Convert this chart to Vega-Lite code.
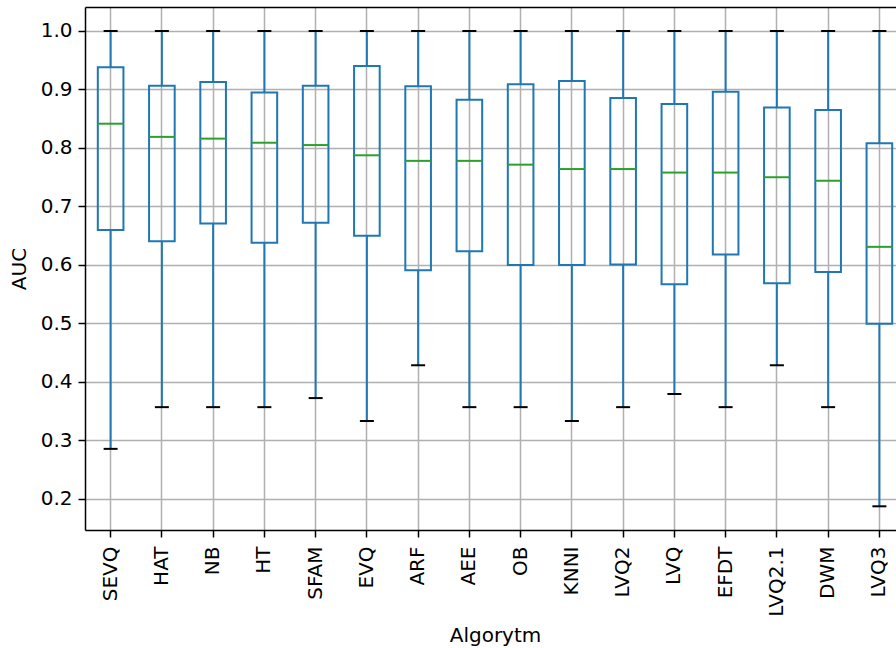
{
  "$schema": "https://vega.github.io/schema/vega-lite/v6.json",
  "width": 811,
  "height": 523,
  "autosize": {"type": "none"},
  "padding": {"left": 85, "top": 7, "right": 0, "bottom": 118},
  "background": "white",
  "config": {
    "view": {"stroke": null},
    "font": "DejaVu Sans",
    "axis": {
      "labelFont": "DejaVu Sans",
      "titleFont": "DejaVu Sans",
      "labelFontSize": 20,
      "titleFontSize": 20,
      "titleFontWeight": "normal",
      "labelColor": "black",
      "titleColor": "black",
      "domainColor": "black",
      "domainWidth": 1.5,
      "tickColor": "black",
      "tickWidth": 1.5,
      "tickSize": 7,
      "gridColor": "#b0b0b0",
      "gridWidth": 1.5,
      "gridOpacity": 1
    }
  },
  "data": {
    "values": [
      {"algo": "SEVQ", "lo": 0.2857, "q1": 0.660, "med": 0.8415, "q3": 0.938, "hi": 1.0},
      {"algo": "HAT", "lo": 0.357, "q1": 0.6405, "med": 0.819, "q3": 0.9066, "hi": 1.0},
      {"algo": "NB", "lo": 0.357, "q1": 0.671, "med": 0.816, "q3": 0.913, "hi": 1.0},
      {"algo": "HT", "lo": 0.357, "q1": 0.638, "med": 0.809, "q3": 0.895, "hi": 1.0},
      {"algo": "SFAM", "lo": 0.3725, "q1": 0.672, "med": 0.805, "q3": 0.9066, "hi": 1.0},
      {"algo": "EVQ", "lo": 0.3333, "q1": 0.650, "med": 0.7875, "q3": 0.940, "hi": 1.0},
      {"algo": "ARF", "lo": 0.4286, "q1": 0.591, "med": 0.778, "q3": 0.9055, "hi": 1.0},
      {"algo": "AEE", "lo": 0.357, "q1": 0.6235, "med": 0.778, "q3": 0.8826, "hi": 1.0},
      {"algo": "OB", "lo": 0.357, "q1": 0.600, "med": 0.7715, "q3": 0.909, "hi": 1.0},
      {"algo": "KNNI", "lo": 0.3333, "q1": 0.600, "med": 0.764, "q3": 0.9145, "hi": 1.0},
      {"algo": "LVQ2", "lo": 0.357, "q1": 0.601, "med": 0.764, "q3": 0.8855, "hi": 1.0},
      {"algo": "LVQ", "lo": 0.3795, "q1": 0.567, "med": 0.758, "q3": 0.875, "hi": 1.0},
      {"algo": "EFDT", "lo": 0.357, "q1": 0.618, "med": 0.758, "q3": 0.896, "hi": 1.0},
      {"algo": "LVQ2.1", "lo": 0.4286, "q1": 0.5687, "med": 0.750, "q3": 0.869, "hi": 1.0},
      {"algo": "DWM", "lo": 0.357, "q1": 0.588, "med": 0.744, "q3": 0.865, "hi": 1.0},
      {"algo": "LVQ3", "lo": 0.1875, "q1": 0.4997, "med": 0.631, "q3": 0.808, "hi": 1.0}
    ]
  },
  "layer": [
    {
      "mark": {"type": "rule", "color": "#1f77b4", "strokeWidth": 2},
      "encoding": {
        "x": {
          "field": "algo",
          "type": "nominal",
          "sort": null,
          "scale": {"type": "band", "range": [0, 820], "paddingInner": 0, "paddingOuter": 0},
          "axis": {
            "orient": "bottom",
            "title": "Algorytm",
            "labelAngle": 270,
            "labelAlign": "right",
            "labelBaseline": "middle",
            "labelPadding": 9,
            "bandPosition": 0.5,
            "grid": true,
            "titlePadding": 9
          }
        },
        "y": {
          "field": "lo",
          "type": "quantitative",
          "scale": {"domain": [0.147, 1.041], "nice": false, "zero": false},
          "axis": {
            "title": "AUC",
            "values": [0.2, 0.3, 0.4, 0.5, 0.6, 0.7, 0.8, 0.9, 1.0],
            "format": ".1f",
            "labelPadding": 6,
            "titlePadding": 11,
            "grid": true
          }
        },
        "y2": {"field": "q1"}
      }
    },
    {
      "mark": {"type": "rule", "color": "#1f77b4", "strokeWidth": 2},
      "encoding": {
        "x": {"field": "algo", "type": "nominal", "sort": null, "axis": null},
        "y": {"field": "q3", "type": "quantitative"},
        "y2": {"field": "hi"}
      }
    },
    {
      "mark": {"type": "bar", "width": {"band": 0.5}, "fill": "white", "fillOpacity": 0, "stroke": "#1f77b4", "strokeWidth": 2},
      "encoding": {
        "x": {"field": "algo", "type": "nominal", "sort": null, "axis": null},
        "y": {"field": "q1", "type": "quantitative"},
        "y2": {"field": "q3"}
      }
    },
    {
      "mark": {"type": "tick", "color": "black", "size": 14, "thickness": 2, "opacity": 1},
      "encoding": {
        "x": {"field": "algo", "type": "nominal", "sort": null, "axis": null},
        "y": {"field": "lo", "type": "quantitative"}
      }
    },
    {
      "mark": {"type": "tick", "color": "black", "size": 14, "thickness": 2, "opacity": 1},
      "encoding": {
        "x": {"field": "algo", "type": "nominal", "sort": null, "axis": null},
        "y": {"field": "hi", "type": "quantitative"}
      }
    },
    {
      "mark": {"type": "tick", "color": "#2ca02c", "size": 26, "thickness": 2, "opacity": 1},
      "encoding": {
        "y": {"field": "med", "type": "quantitative"},
        "x": {
          "field": "algo",
          "type": "nominal",
          "sort": null,
          "axis": {"orient": "top", "labels": false, "ticks": false, "grid": false, "title": null, "domain": true}
        }
      }
    }
  ],
  "resolve": {"axis": {"x": "independent"}}
}
